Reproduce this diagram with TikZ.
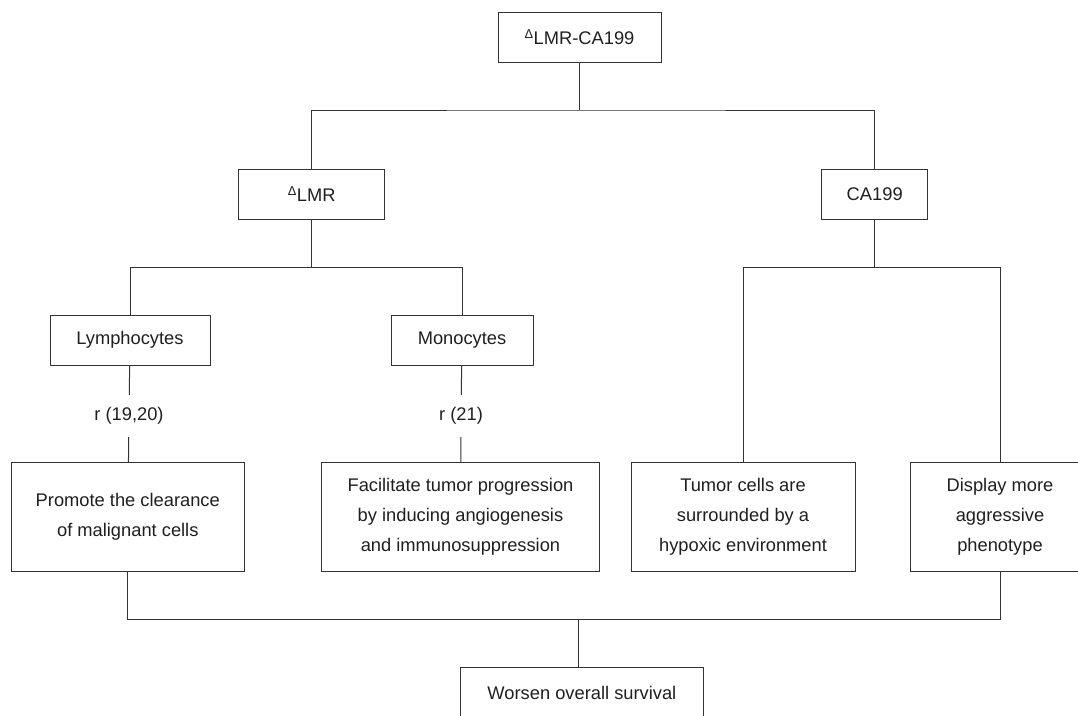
\documentclass[tikz,border=0pt]{standalone}
\usepackage{fontspec}
\setmainfont{Liberation Sans}
\usepackage{xcolor}
\colorlet{colorLine}{black!80}
\colorlet{colorText}{black!88}
\usepackage{tikz}
\usetikzlibrary{positioning}
\tikzset{
  box/.style={draw=colorLine, line width=1pt, text=colorText, align=center, inner sep=0pt, font=\fontsize{18.3}{30}\selectfont},
  ref/.style={text=colorText, inner sep=12pt, font=\fontsize{18.3}{30}\selectfont}
}

\begin{document}
\begin{tikzpicture}[x=1pt, y=-1pt, line width=1pt, color=colorLine]
\useasboundingbox (0,0) rectangle (1078,715);
\clip (0,0) rectangle (1078,715);
\node[box, minimum width=163pt, minimum height=50pt] (lmrca) at (579.5,37.5) {\textsuperscript{Δ}LMR-CA199};
\node[box, minimum width=146pt, minimum height=50pt] (lmr) at (311.7,194) {\textsuperscript{Δ}LMR};
\node[box, minimum width=106pt, minimum height=50pt] (ca) at (874.7,194) {CA199};
\node[box, minimum width=160pt, minimum height=50pt] (lym) at (130,340) {Lymphocytes};
\node[box, minimum width=142pt, minimum height=50pt] (mono) at (462,340) {Monocytes};
\node[ref] (r1) at (129,416) {r (19,20)};
\node[ref] (r2) at (461,416) {r (21)};
\node[box, minimum width=233pt, minimum height=109pt] (prom) at (127.8,517.2) {Promote the clearance\\of malignant cells};
\node[box, minimum width=278.4pt, minimum height=109pt] (fac) at (460.5,517.2) {Facilitate tumor progression\\by inducing angiogenesis\\and immunosuppression};
\node[box, minimum width=224pt, minimum height=109pt] (tum) at (743,517.2) {Tumor cells are\\surrounded by a\\hypoxic environment};
\node[box, minimum width=180pt, minimum height=109pt] (disp) at (1000,517.2) {Display more\\aggressive\\phenotype};
\node[box, minimum width=242.3pt, minimum height=50pt] (wor) at (581.9,692.7) {Worsen overall survival};
% tree connectors
\coordinate (j1) at (579.5,110);
\coordinate (j2) at (311.7,267.5);
\coordinate (j3) at (874.7,267.5);
\coordinate (j4) at (578.3,619.3);
\draw (lmrca.south) -- (j1);
\draw (lmr.north) |- (j1) -| (ca.north);
\draw (lmr.south) -- (j2);
\draw (lym.north) |- (j2) -| (mono.north);
\draw (ca.south) -- (j3);
\draw (tum.north) |- (j3) -| (disp.north);
\draw (lym) -- (r1);
\draw (r1) -- (prom);
\draw (mono) -- (r2);
\draw (r2) -- (fac);
\draw (prom.south) |- (j4) -| (disp.south);
\draw (j4) -- (j4 |- wor.north);
\end{tikzpicture}
\end{document}
